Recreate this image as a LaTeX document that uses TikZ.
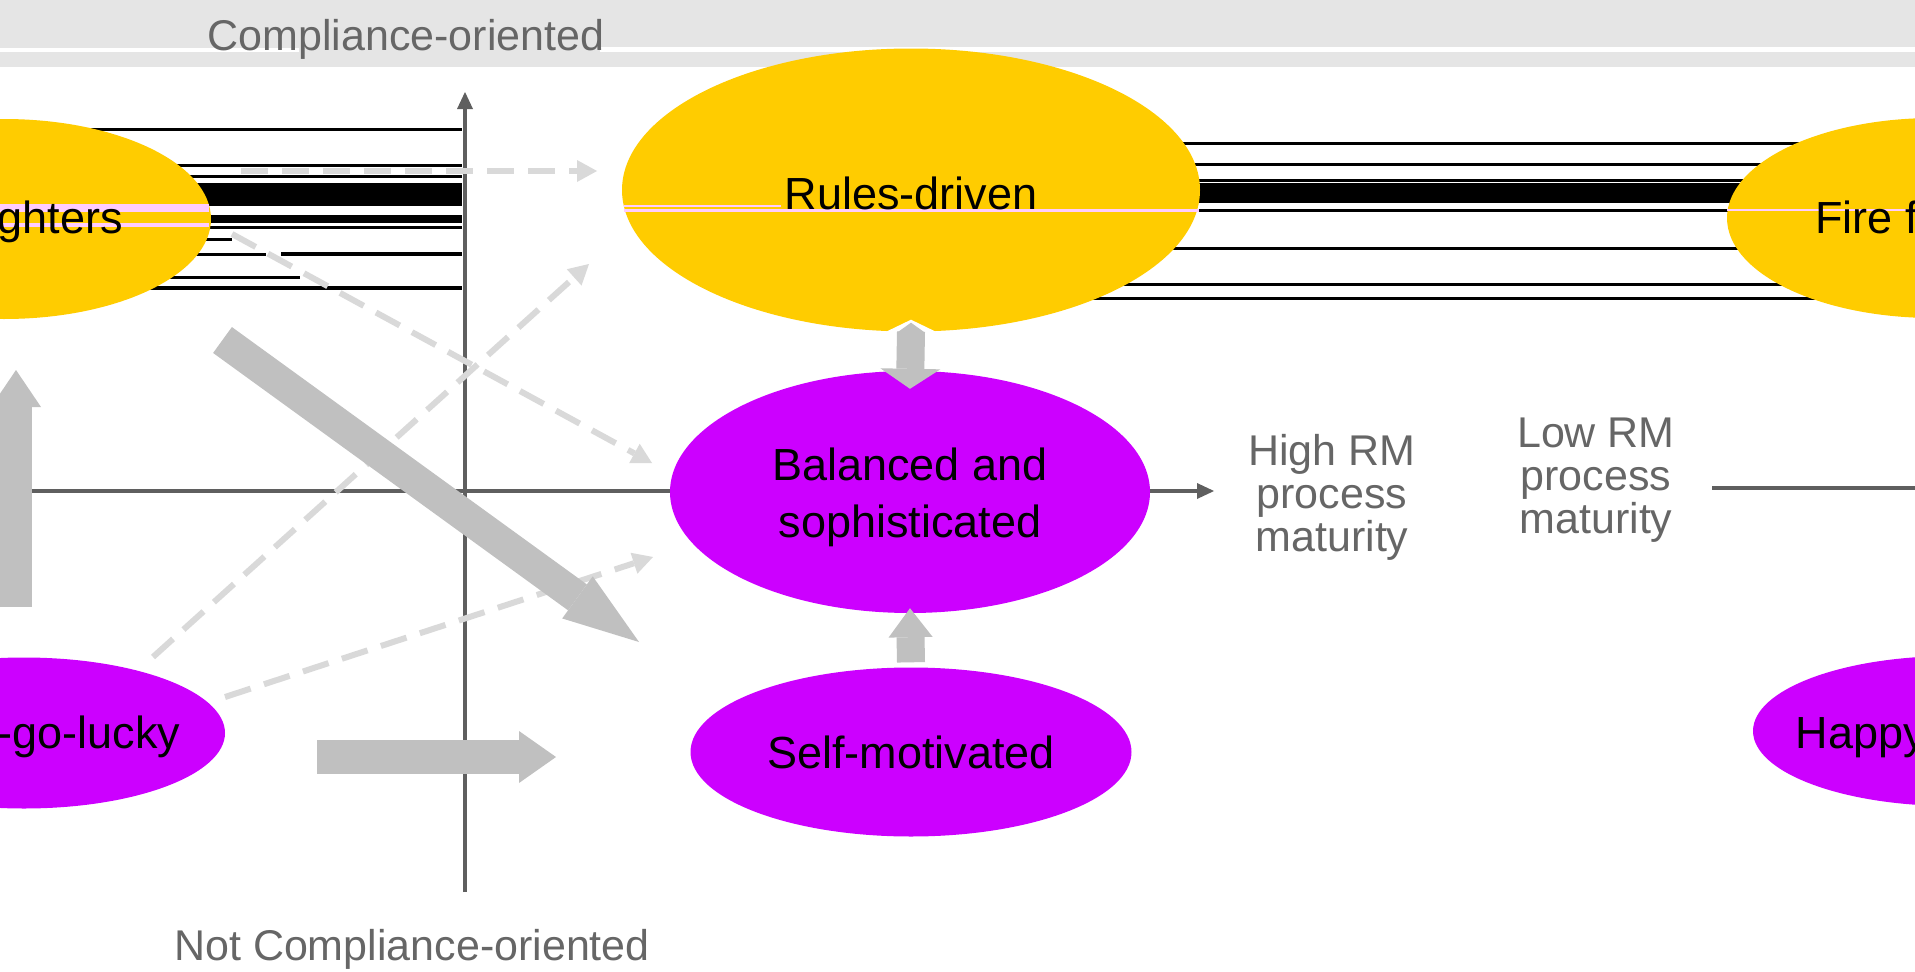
\documentclass[tikz,border=0pt]{standalone}
\usepackage{fontspec}
\setmainfont{Liberation Sans}
\usetikzlibrary{shapes.geometric,arrows.meta}
\definecolor{ffyellow}{HTML}{FFCC00}
\definecolor{ovalviolet}{HTML}{CC00FF}
\definecolor{blockgray}{HTML}{C0C0C0}
\definecolor{dashgray}{HTML}{D9D9D9}
\definecolor{axisgray}{HTML}{5F5F5F}
\definecolor{labelgray}{HTML}{666666}
\definecolor{bandgray}{HTML}{E5E5E5}
\definecolor{pinkline}{HTML}{FFCCFF}
\begin{document}
\begin{tikzpicture}[x=1pt,y=-1pt,
  yellowoval/.style={ellipse,fill=ffyellow,inner sep=0pt,minimum width=414pt,minimum height=200pt},
  violetoval/.style={ellipse,fill=ovalviolet,inner sep=0pt},
  ovaltext/.style={inner sep=0pt,font=\fontsize{45}{57}\selectfont,text=black,align=center},
  labeltext/.style={inner sep=0pt,font=\fontsize{43}{43}\selectfont,text=labelgray,align=center},
  axisline/.style={draw=axisgray,line width=4pt},
  axistip/.style={-{Triangle[length=17pt,width=16pt,line width=0pt]}},
  dasharrow/.style={draw=dashgray,line width=6pt,dash pattern=on 27pt off 14pt,-{Triangle[length=20pt,width=22pt,line width=0pt]}},
  blockarrow/.style={draw=blockgray,line width=#1},
  artifact/.style={fill=black},
  pinkart/.style={fill=pinkline}]
\useasboundingbox (0,0) rectangle (1915,972);
\clip (0,0) rectangle (1915,972);
\fill[white] (0,0) rectangle (1915,972);
% top band
\fill[bandgray] (0,0) rectangle (1915,67);
\fill[white] (0,48) rectangle (299,52);
\fill[white] (600,47) rectangle (1915,52);
% black line artifacts, left group
\fill[artifact] (-10,128) rectangle (462,130.5);
\fill[artifact] (-10,164) rectangle (462,166.5);
\fill[artifact] (-10,175) rectangle (462,177.5);
\fill[artifact] (-10,183) rectangle (462,206);
\fill[artifact] (-10,215) rectangle (462,223);
\fill[artifact] (-10,226) rectangle (462,228.5);
\fill[artifact] (-10,238) rectangle (232,240.5);
\fill[artifact] (-10,253) rectangle (266,255.5);
\fill[artifact] (281,252) rectangle (462,256);
\fill[artifact] (-10,276) rectangle (300,278.5);
\fill[artifact] (-10,286) rectangle (462,290);
% black line artifacts, right group
\fill[artifact] (1000,142) rectangle (1900,144.5);
\fill[artifact] (1000,163) rectangle (1900,165.5);
\fill[artifact] (1000,179) rectangle (1900,181.5);
\fill[artifact] (1000,183) rectangle (1900,203);
\fill[artifact] (1000,209) rectangle (1900,211.5);
\fill[artifact] (1000,247) rectangle (1900,249.5);
\fill[artifact] (1000,283) rectangle (1900,285.5);
\fill[artifact] (1000,297) rectangle (1900,299.5);
% axes
\coordinate (hstart) at (-220,491);
\coordinate (hend) at (1214,491);
\coordinate (hstart2) at (1712,488);
\coordinate (hend2) at (1930,488);
\coordinate (vstart) at (465,892);
\coordinate (vend) at (465,92);
\draw[axisline,axistip] (hstart) -- (hend);
\draw[axisline] (hstart2) -- (hend2);
\draw[axisline,axistip] (vstart) -- (vend);
% dashed arrows
\coordinate (d1s) at (241,171); \coordinate (d1e) at (597,171);
\coordinate (d2s) at (232,234); \coordinate (d2e) at (652,463);
\coordinate (d3s) at (153,657); \coordinate (d3e) at (589,264);
\coordinate (d4s) at (225,697); \coordinate (d4e) at (653,557);
\draw[dasharrow] (d1s) -- (d1e);
\draw[dasharrow] (d2s) -- (d2e);
\draw[dasharrow] (d3s) -- (d3e);
\draw[dasharrow] (d4s) -- (d4e);
% ovals
\node[yellowoval] (ffL) at (4,219) {};
\node[yellowoval] (ffR) at (1934,218) {};
\node[yellowoval,minimum width=578pt,minimum height=283pt] (rules) at (911,190) {};
\node[violetoval,minimum width=480pt,minimum height=242pt] (balanced) at (910,492) {};
\node[violetoval,minimum width=441pt,minimum height=169pt] (selfm) at (911,752) {};
\node[violetoval,minimum width=402pt,minimum height=151pt] (hglL) at (24,733) {};
\node[violetoval,minimum width=398pt,minimum height=150pt] (hglR) at (1952,731) {};
% notch at the bottom of the Rules-driven oval
\fill[white] ([xshift=-29pt,yshift=-2pt]rules.south) -- ([yshift=12pt]rules.south) -- ([xshift=29pt,yshift=-2pt]rules.south) -- cycle;
% pink artifacts
\fill[pinkart] (0,204) rectangle (209,212);
\fill[pinkart] (0,223) rectangle (209,227);
\fill[pinkart] (624,209) rectangle (1199,212);
\fill[pinkart] (624,205) rectangle (781,207);
\fill[pinkart] (1727,209) rectangle (1915,211);
% block arrows
\coordinate (dgs) at (222.5,340); \coordinate (dge) at (639,642);
\coordinate (hzs) at (317,757); \coordinate (hze) at (556,757);
\coordinate (vls) at (16,607); \coordinate (vle) at (16,370);
\draw[blockarrow=32pt,-{Triangle[length=76pt,width=52pt,line width=0pt]}] (dgs) -- (dge);
\draw[blockarrow=34pt,-{Triangle[length=37pt,width=52pt,line width=0pt]}] (hzs) -- (hze);
\draw[blockarrow=32pt,-{Triangle[length=37pt,width=50pt,line width=0pt]}] (vls) -- (vle);
\fill[blockgray] ([xshift=-14pt,yshift=-1pt]rules.south) -- ([yshift=9pt]rules.south) -- ([xshift=14pt,yshift=-1pt]rules.south) -- cycle;
\draw[blockarrow=28pt,-{Triangle[length=20pt,width=60pt,line width=0pt]}] ([yshift=0pt]rules.south) -- ([yshift=-18pt]balanced.north);
\draw[blockarrow=28pt,-{Triangle[length=29pt,width=44pt,line width=0pt]}] ([yshift=5pt]selfm.north) -- ([yshift=5pt]balanced.south);
% oval texts
\node[ovaltext,anchor=base] (ffLt) at (4,233) {Fire fighters};
\node[ovaltext,anchor=base] (ffRt) at (1934,233) {Fire fighters};
\node[ovaltext,anchor=base] (rulest) at (911,209) {Rules-driven};
\node[ovaltext] (balancedt) at (910,497) {Balanced and\\sophisticated};
\node[ovaltext,anchor=base] (selfmt) at (911,768) {Self-motivated};
\node[ovaltext,anchor=base] (hglLt) at (24,748) {Happy-go-lucky};
\node[ovaltext,anchor=base] (hglRt) at (1952,748) {Happy-go-lucky};
% axis labels
\node[labeltext,anchor=base] (comp) at (406,50) {Compliance-oriented};
\node[labeltext,anchor=base] (notcomp) at (412,960) {Not Compliance-oriented};
\node[labeltext,anchor=north] (high) at (1332,434) {High RM\\process\\maturity};
\node[labeltext,anchor=north] (low) at (1596,418) {Low RM\\process\\maturity};
\end{tikzpicture}
\end{document}
